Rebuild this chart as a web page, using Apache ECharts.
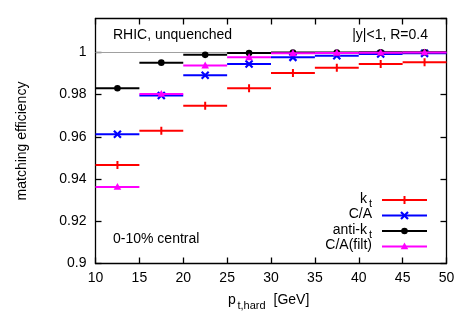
<!DOCTYPE html>
<html><head><meta charset="utf-8">
<script src="https://cdn.jsdelivr.net/npm/echarts@6/dist/echarts.min.js"></script>
<style>html,body{margin:0;padding:0;background:#fff}#c{width:470px;height:329px}</style>
</head><body><div id="c"></div>
<script>
const binLo = [10, 15, 20, 25, 30, 35, 40, 45];
const binHi = [15, 20, 25, 30, 35, 40, 45, 50];
const kt      = [0.9466, 0.9629, 0.9747, 0.9830, 0.9902, 0.9927, 0.9945, 0.9953];
const ca      = [0.9612, 0.9795, 0.9891, 0.9945, 0.9976, 0.9984, 0.9992, 0.9995];
const antikt  = [0.9830, 0.9951, 0.9988, 0.9997, 0.9999, 0.9999, 1.0000, 1.0000];
const cafilt  = [0.9362, 0.9803, 0.9937, 0.9976, 0.9995, 0.9997, 0.9998, 0.9999];
const xTicks = [10, 15, 20, 25, 30, 35, 40, 45, 50];
const yTicks = [0.9, 0.92, 0.94, 0.96, 0.98, 1];

const FONT = 'Liberation Sans, Arial, sans-serif';
const chart = echarts.init(document.getElementById('c'));

function markerShape(kind, cx, cy, color) {
  if (kind === 'vbar') return {type:'line', shape:{x1:cx,y1:cy-4,x2:cx,y2:cy+4}, style:{stroke:color,lineWidth:2}};
  if (kind === 'cross') return {type:'group', children:[
    {type:'line', shape:{x1:cx-3.5,y1:cy-3.5,x2:cx+3.5,y2:cy+3.5}, style:{stroke:color,lineWidth:2.2}},
    {type:'line', shape:{x1:cx-3.5,y1:cy+3.5,x2:cx+3.5,y2:cy-3.5}, style:{stroke:color,lineWidth:2.2}}]};
  if (kind === 'circle') return {type:'circle', shape:{cx:cx,cy:cy,r:3.3}, style:{fill:color}};
  if (kind === 'tri') return {type:'polygon', shape:{points:[[cx,cy-4],[cx+3.8,cy+2.8],[cx-3.8,cy+2.8]]}, style:{fill:color}};
}
function makeRender(kind, color) {
  return function(params, api) {
    const y = api.value(2);
    const p0 = api.coord([api.value(0), y]);
    const p1 = api.coord([api.value(1), y]);
    const pc = api.coord([(api.value(0) + api.value(1)) / 2, y]);
    return {type:'group', children:[
      {type:'line', shape:{x1:p0[0],y1:p0[1],x2:p1[0],y2:p1[1]}, style:{stroke:color,lineWidth:2}},
      markerShape(kind, pc[0], pc[1], color)
    ]};
  };
}
function mk(name, vals, kind, color) {
  return {type:'custom', name:name, renderItem: makeRender(kind, color),
    data: vals.map((v,i)=>[binLo[i], binHi[i], v]), clip:true, z: 3};
}

const axisCommon = {
  axisLine:{show:true, lineStyle:{color:'#000', width:1.3}},
  axisTick:{show:true, inside:true, length:6, lineStyle:{color:'#000', width:1.3}},
  splitLine:{show:false}
};
const legendX0 = 382, legendX1 = 427, legendTextR = 372;
const legendRows = [
  {main:'k', sub:'t', kind:'vbar', color:'#ff0000', y:200},
  {main:'C/A', sub:'', kind:'cross', color:'#0000ff', y:215.5},
  {main:'anti-k', sub:'t', kind:'circle', color:'#000000', y:231},
  {main:'C/A(filt)', sub:'', kind:'tri', color:'#ff00ff', y:246.5}
];
const graphics = [];
legendRows.forEach(r => {
  graphics.push({type:'line', shape:{x1:legendX0,y1:r.y,x2:legendX1,y2:r.y}, style:{stroke:r.color,lineWidth:2}, z:10});
  graphics.push(Object.assign(markerShape(r.kind, (legendX0+legendX1)/2, r.y, r.color), {z:10}));
  const subW = r.sub ? 5 : 0;
  if (r.sub) graphics.push({type:'text', x:legendTextR, y:r.y+4, style:{text:r.sub, font:'11px '+FONT, fill:'#000', textAlign:'right', textVerticalAlign:'middle'}, z:10});
  graphics.push({type:'text', x:legendTextR-subW, y:r.y-1, style:{text:r.main, font:'14px '+FONT, fill:'#000', textAlign:'right', textVerticalAlign:'middle'}, z:10});
});
graphics.push({type:'text', x:113, y:35, style:{text:'RHIC, unquenched', font:'14px '+FONT, fill:'#000', textVerticalAlign:'middle'}});
graphics.push({type:'text', x:428, y:35, style:{text:'|y|<1, R=0.4', font:'14px '+FONT, fill:'#000', textAlign:'right', textVerticalAlign:'middle'}});
graphics.push({type:'text', x:113, y:239, style:{text:'0-10% central', font:'14px '+FONT, fill:'#000', textVerticalAlign:'middle'}});
graphics.push({type:'text', x:228, y:300, style:{text:'p', font:'14px '+FONT, fill:'#000', textVerticalAlign:'middle'}});
graphics.push({type:'text', x:237.5, y:306, style:{text:'t,hard', font:'11px '+FONT, fill:'#000', textVerticalAlign:'middle'}});
graphics.push({type:'text', x:273.5, y:300, style:{text:'[GeV]', font:'14px '+FONT, fill:'#000', textVerticalAlign:'middle'}});

const option = {
  animation:false,
  backgroundColor:'#fff',
  grid:{left:95.5, right:23.5, top:18.5, bottom:65.5, containLabel:false},
  xAxis:[
    Object.assign({type:'value', min:10, max:50, interval:5, position:'bottom',
      axisLabel:{color:'#000', fontSize:14, fontFamily:FONT, margin:8, formatter:v=>xTicks.includes(v)?String(v):''}}, axisCommon),
    Object.assign({type:'value', min:10, max:50, interval:5, position:'top', axisLabel:{show:false}}, axisCommon)
  ],
  yAxis:[
    Object.assign({type:'value', min:0.9, max:1.016, interval:0.02, position:'left',
      name:'matching efficiency', nameLocation:'middle', nameGap:66, nameRotate:90,
      nameTextStyle:{color:'#000', fontSize:14, fontFamily:FONT},
      axisLabel:{color:'#000', fontSize:14, fontFamily:FONT, margin:9, showMaxLabel:false,
        formatter:v=>{const r=Math.round(v*100)/100; return yTicks.some(t=>Math.abs(t-r)<1e-9)?String(r):'';}}}, axisCommon),
    Object.assign({type:'value', min:0.9, max:1.016, interval:0.02, position:'right', axisLabel:{show:false}}, axisCommon)
  ],
  series:[
    Object.assign(mk('kt', kt, 'vbar', '#ff0000'), {markLine:{silent:true, symbol:'none', label:{show:false},
      lineStyle:{color:'#a0a0a0', type:'solid', width:1}, data:[{yAxis:1}], z:1}}),
    mk('C/A', ca, 'cross', '#0000ff'),
    mk('anti-kt', antikt, 'circle', '#000000'),
    mk('C/A(filt)', cafilt, 'tri', '#ff00ff')
  ],
  graphic: graphics
};
chart.setOption(option);
</script></body></html>
